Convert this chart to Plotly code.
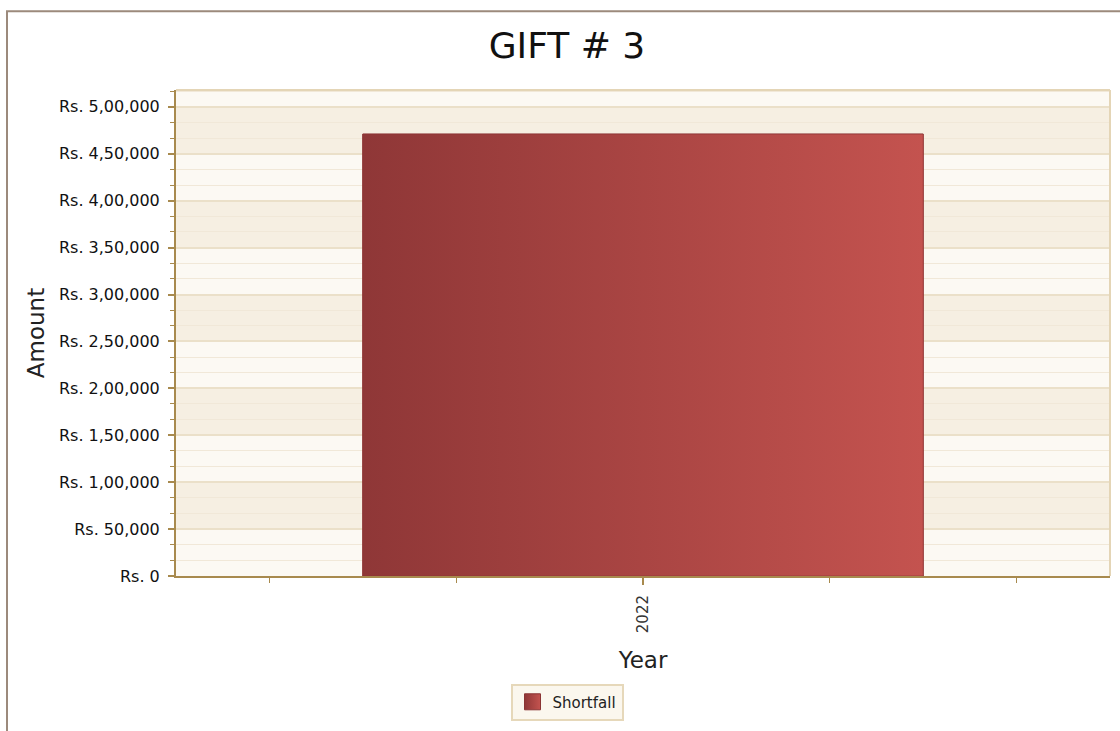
import plotly.graph_objects as go

# Chart data
years = ["2022"]
shortfall = [471000]
series_name = "Shortfall"

# Y axis ticks (Indian number grouping)
y_tick_values = [0, 50000, 100000, 150000, 200000, 250000, 300000, 350000, 400000, 450000, 500000]
y_tick_labels = ["Rs. 0", "Rs. 50,000", "Rs. 1,00,000", "Rs. 1,50,000", "Rs. 2,00,000",
                 "Rs. 2,50,000", "Rs. 3,00,000", "Rs. 3,50,000", "Rs. 4,00,000",
                 "Rs. 4,50,000", "Rs. 5,00,000"]

W, H = 1120, 731
ML, MR, MT, MB = 176, 10, 90, 153
PW, PH = W - ML - MR, H - MT - MB

FONT = "DejaVu Sans"
AXIS_COLOR = "#a88a4e"
DARK_RED, LIGHT_RED = "#8f3737", "#c4534f"
BAR_WIDTH = 0.6
positions = list(range(len(years)))

fig = go.Figure()

# Bar mark (solid base)
fig.add_trace(go.Bar(
    x=positions, y=shortfall, width=BAR_WIDTH, name=series_name,
    marker=dict(color="#a84646", line=dict(color="#8a3434", width=1)),
    showlegend=False,
))

# Horizontal gradient on top of each bar, built from the same values
for px, v in zip(positions, shortfall):
    x0, x1 = px - BAR_WIDTH / 2, px + BAR_WIDTH / 2
    fig.add_trace(go.Scatter(
        x=[x0, x1, x1, x0, x0], y=[0, 0, v, v, 0],
        mode="lines", fill="toself", name=series_name,
        line=dict(color="rgba(140,52,52,0.6)", width=1),
        fillgradient=dict(type="horizontal",
                          colorscale=[[0, DARK_RED], [1, LIGHT_RED]]),
        hoverinfo="skip", showlegend=False,
    ))

# Legend entry: gradient square swatch
fig.add_trace(go.Scatter(
    x=[None], y=[None], mode="markers", name=series_name,
    marker=dict(symbol="square", size=22, color=DARK_RED,
                gradient=dict(type="horizontal", color=LIGHT_RED),
                line=dict(color="#8a3434", width=1)),
    showlegend=True, hoverinfo="skip",
))

y_max = 518000
shapes = []
# Interlaced background bands
step = 50000
for i in range(1, 10, 2):
    shapes.append(dict(type="rect", xref="paper", yref="y", x0=0, x1=1,
                       y0=i * step, y1=(i + 1) * step, layer="below",
                       line=dict(width=0), fillcolor="#f6efe2"))
# Plot frame (top / right)
shapes.append(dict(type="line", xref="paper", yref="paper", x0=0, x1=1, y0=1, y1=1,
                   line=dict(color="#e4d5b6", width=2), layer="above"))
shapes.append(dict(type="line", xref="paper", yref="paper", x0=1, x1=1, y0=0, y1=1,
                   line=dict(color="#e4d5b6", width=2), layer="above"))
# Outer chart border
shapes.append(dict(type="rect", xref="paper", yref="paper",
                   x0=(7 - ML) / PW, x1=(W + 10 - ML) / PW,
                   y0=(H - MB - (H + 10)) / PH, y1=(H - MB - 11) / PH,
                   line=dict(color="#9c8a7c", width=2), layer="below"))

fig.update_layout(
    width=W, height=H,
    margin=dict(l=ML, r=MR, t=MT, b=MB),
    paper_bgcolor="white", plot_bgcolor="#fcf9f3",
    font=dict(family=FONT, color="#222222"),
    title=dict(text="GIFT # 3", x=567 / W, xanchor="center",
               y=1 - 45 / H, yanchor="middle",
               font=dict(family=FONT, size=36, color="#111111")),
    shapes=shapes,
    showlegend=True,
    legend=dict(x=(567 - ML) / PW, xanchor="center", y=(H - MB - 686) / PH, yanchor="top",
                orientation="h", bgcolor="#fbf7ee", bordercolor="#e6d8ba", borderwidth=2,
                font=dict(family=FONT, size=15, color="#222222"),
                itemsizing="trace"),
    xaxis=dict(
        range=[-0.5, 0.5], tickvals=positions, ticktext=years, tickangle=-90,
        ticks="outside", ticklen=7, tickwidth=2, tickcolor=AXIS_COLOR,
        ticklabelstandoff=4,
        minor=dict(tickvals=[-0.4, -0.2, 0.2, 0.4], ticks="outside", ticklen=5,
                   tickwidth=1, tickcolor=AXIS_COLOR),
        showline=True, linecolor=AXIS_COLOR, linewidth=2,
        showgrid=False, zeroline=False,
        tickfont=dict(family=FONT, size=15, color="#333333"),
        title=dict(text="Year", standoff=20, font=dict(family=FONT, size=23, color="#222222")),
    ),
    yaxis=dict(
        range=[0, y_max], tickvals=y_tick_values, ticktext=y_tick_labels,
        ticks="outside", ticklen=6, tickwidth=2, tickcolor=AXIS_COLOR,
        ticklabelstandoff=5,
        minor=dict(dtick=step / 3, tick0=0, ticks="outside", ticklen=4, tickwidth=1,
                   tickcolor=AXIS_COLOR, showgrid=True, gridcolor="#f1e8d8", gridwidth=1),
        showline=True, linecolor=AXIS_COLOR, linewidth=2,
        showgrid=True, gridcolor="#ebe0c9", gridwidth=2, zeroline=False,
        tickfont=dict(family=FONT, size=16, color="#111111"),
        title=dict(text="Amount", standoff=8, font=dict(family=FONT, size=23, color="#222222")),
    ),
)

fig.write_html("out.html")
